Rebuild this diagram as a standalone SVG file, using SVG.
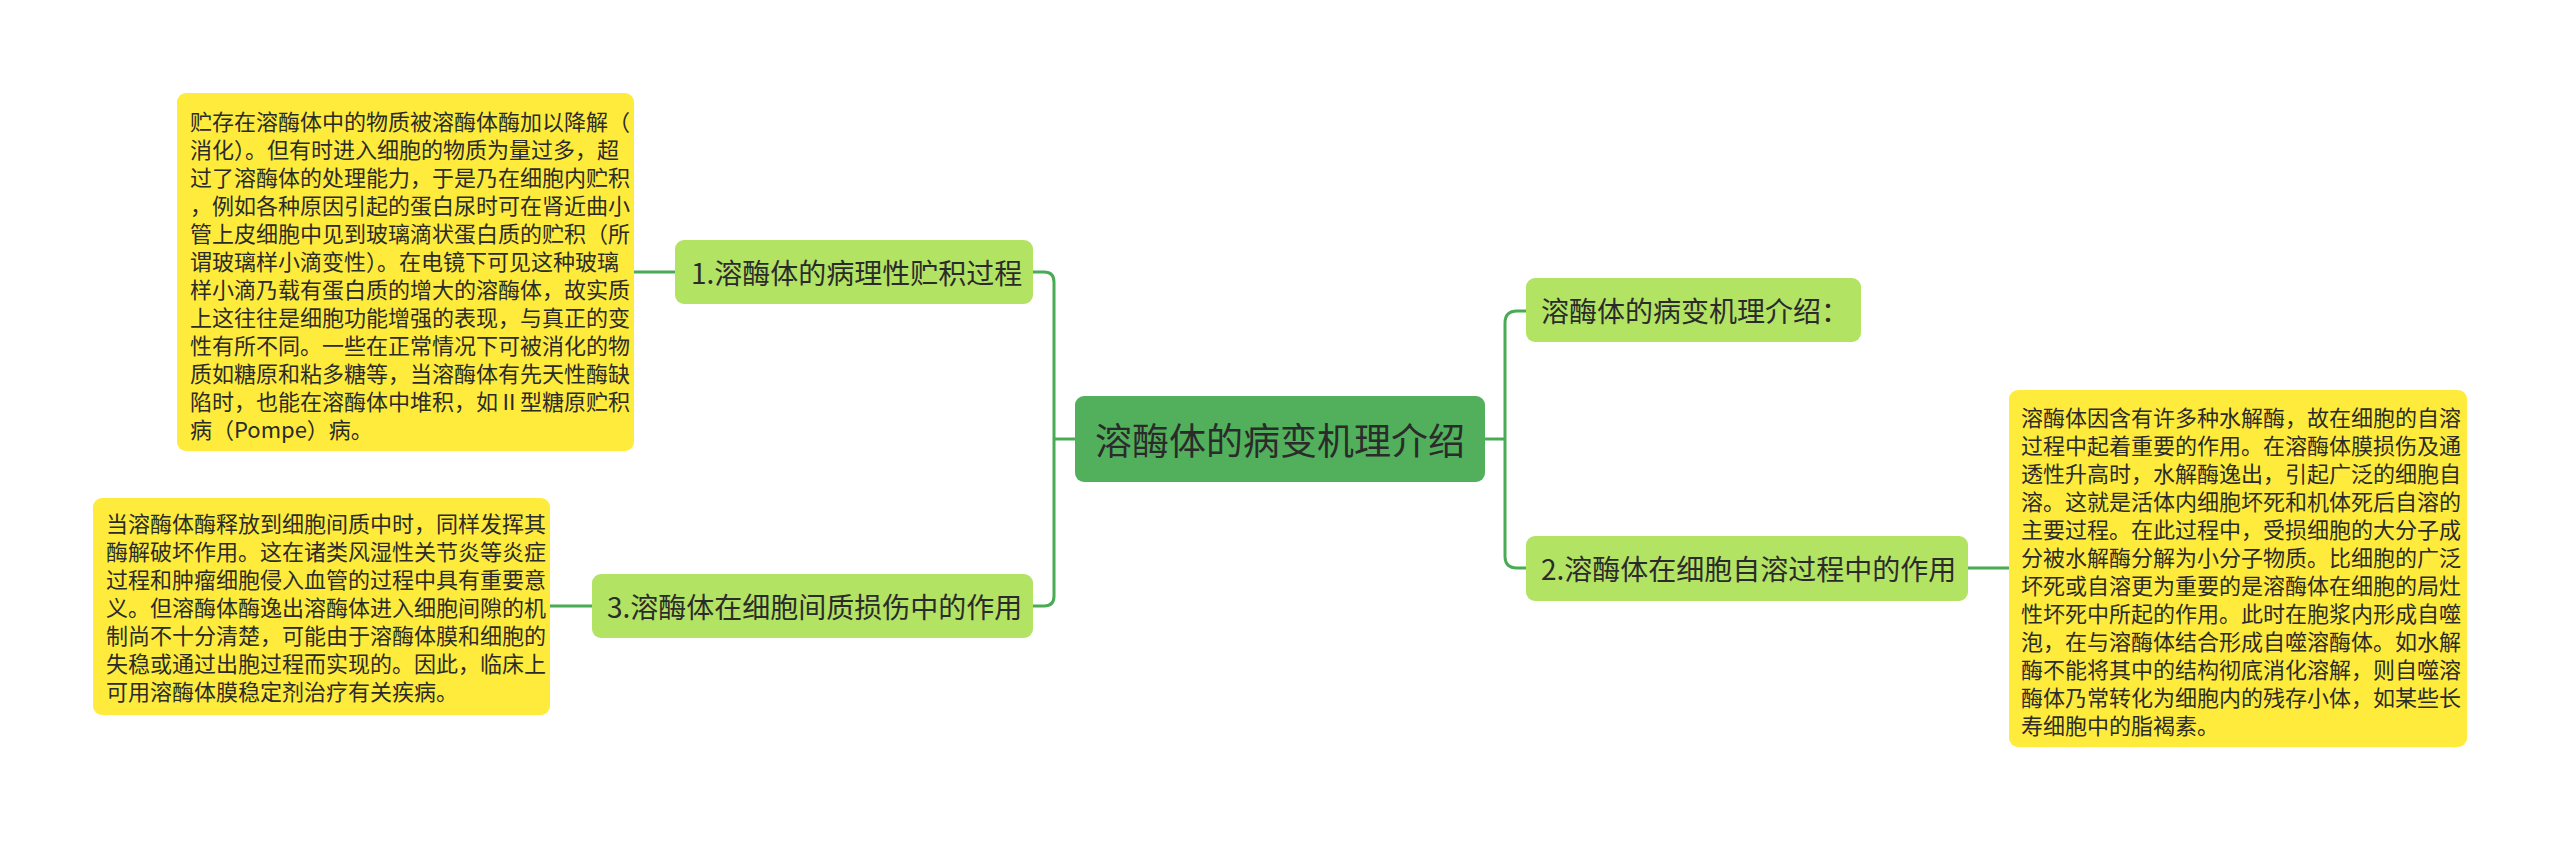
<svg xmlns="http://www.w3.org/2000/svg" width="2560" height="841" viewBox="0 0 2560 841">
<style>
text{font-family:"Noto Sans CJK SC","Noto Sans",sans-serif;fill:#2b2b2b;dominant-baseline:central}
.leaf{fill:#ffeb3b}
.sub{fill:#b3e363}
.root{fill:#52b05c}
.lt{font-size:22px}
.st{font-size:28px}
.rt{font-size:37px;text-anchor:middle}
.con{fill:none;stroke:#4aab55;stroke-width:3}
</style>
<rect width="2560" height="841" fill="#ffffff"/>
<g id="connectors">
<path class="con" d="M1033 272 H1044 Q1054 272 1054 282 V596 Q1054 606 1044 606 H1033"/>
<path class="con" d="M1054 439 H1075"/>
<path class="con" d="M1485 439 H1505"/>
<path class="con" d="M1526 311 H1517 Q1505 311 1505 323 V556 Q1505 568 1517 568 H1526"/>
<path class="con" d="M634 272 H675"/>
<path class="con" d="M550 606 H592"/>
<path class="con" d="M1968 568 H2009"/>
</g>
<g id="root">
<rect class="root" x="1075" y="396" width="410" height="86" rx="9"/>
<text class="rt" x="1280" y="439">溶酶体的病变机理介绍</text>
</g>
<g id="node1">
<rect class="sub" x="675" y="240" width="358" height="64" rx="9"/>
<text class="st" x="691" y="272">1.溶酶体的病理性贮积过程</text>
</g>
<g id="node3">
<rect class="sub" x="592" y="574" width="441" height="64" rx="9"/>
<text class="st" x="607" y="606">3.溶酶体在细胞间质损伤中的作用</text>
</g>
<g id="nodeIntro">
<rect class="sub" x="1526" y="278" width="335" height="64" rx="9"/>
<text class="st" x="1541" y="310">溶酶体的病变机理介绍：</text>
</g>
<g id="node2">
<rect class="sub" x="1526" y="536" width="442" height="65" rx="9"/>
<text class="st" x="1541" y="568">2.溶酶体在细胞自溶过程中的作用</text>
</g>
<g id="leaf1">
<rect class="leaf" x="177" y="93" width="457" height="358" rx="9"/>
<text class="lt" x="190" y="120">贮存在溶酶体中的物质被溶酶体酶加以降解（</text>
<text class="lt" x="190" y="148">消化）。但有时进入细胞的物质为量过多，超</text>
<text class="lt" x="190" y="176">过了溶酶体的处理能力，于是乃在细胞内贮积</text>
<text class="lt" x="190" y="204">，例如各种原因引起的蛋白尿时可在肾近曲小</text>
<text class="lt" x="190" y="232">管上皮细胞中见到玻璃滴状蛋白质的贮积（所</text>
<text class="lt" x="190" y="260">谓玻璃样小滴变性）。在电镜下可见这种玻璃</text>
<text class="lt" x="190" y="288">样小滴乃载有蛋白质的增大的溶酶体，故实质</text>
<text class="lt" x="190" y="316">上这往往是细胞功能增强的表现，与真正的变</text>
<text class="lt" x="190" y="344">性有所不同。一些在正常情况下可被消化的物</text>
<text class="lt" x="190" y="372">质如糖原和粘多糖等，当溶酶体有先天性酶缺</text>
<text class="lt" x="190" y="400">陷时，也能在溶酶体中堆积，如Ⅱ型糖原贮积</text>
<text class="lt" x="190" y="428">病（Pompe）病。</text>
</g>
<g id="leaf3">
<rect class="leaf" x="93" y="498" width="457" height="217" rx="9"/>
<text class="lt" x="106" y="522">当溶酶体酶释放到细胞间质中时，同样发挥其</text>
<text class="lt" x="106" y="550">酶解破坏作用。这在诸类风湿性关节炎等炎症</text>
<text class="lt" x="106" y="578">过程和肿瘤细胞侵入血管的过程中具有重要意</text>
<text class="lt" x="106" y="606">义。但溶酶体酶逸出溶酶体进入细胞间隙的机</text>
<text class="lt" x="106" y="634">制尚不十分清楚，可能由于溶酶体膜和细胞的</text>
<text class="lt" x="106" y="662">失稳或通过出胞过程而实现的。因此，临床上</text>
<text class="lt" x="106" y="690">可用溶酶体膜稳定剂治疗有关疾病。</text>
</g>
<g id="leaf2">
<rect class="leaf" x="2009" y="390" width="458" height="357" rx="9"/>
<text class="lt" x="2021" y="416">溶酶体因含有许多种水解酶，故在细胞的自溶</text>
<text class="lt" x="2021" y="444">过程中起着重要的作用。在溶酶体膜损伤及通</text>
<text class="lt" x="2021" y="472">透性升高时，水解酶逸出，引起广泛的细胞自</text>
<text class="lt" x="2021" y="500">溶。这就是活体内细胞坏死和机体死后自溶的</text>
<text class="lt" x="2021" y="528">主要过程。在此过程中，受损细胞的大分子成</text>
<text class="lt" x="2021" y="556">分被水解酶分解为小分子物质。比细胞的广泛</text>
<text class="lt" x="2021" y="584">坏死或自溶更为重要的是溶酶体在细胞的局灶</text>
<text class="lt" x="2021" y="612">性坏死中所起的作用。此时在胞浆内形成自噬</text>
<text class="lt" x="2021" y="640">泡，在与溶酶体结合形成自噬溶酶体。如水解</text>
<text class="lt" x="2021" y="668">酶不能将其中的结构彻底消化溶解，则自噬溶</text>
<text class="lt" x="2021" y="696">酶体乃常转化为细胞内的残存小体，如某些长</text>
<text class="lt" x="2021" y="724">寿细胞中的脂褐素。</text>
</g>
</svg>
